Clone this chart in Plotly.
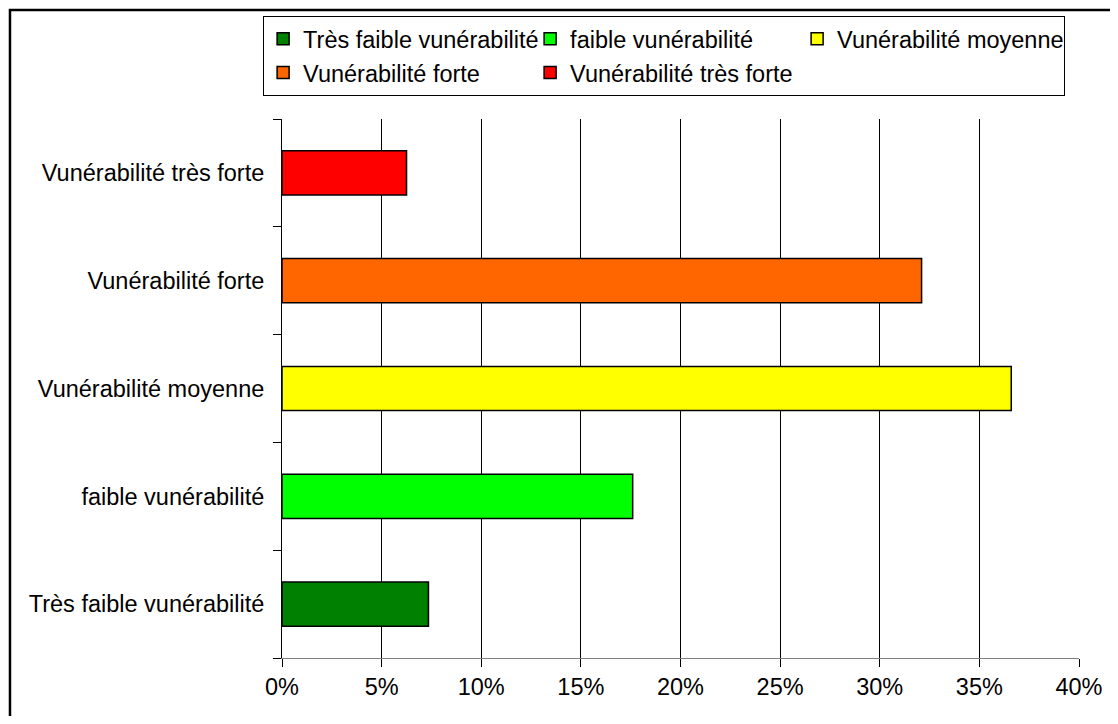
import plotly.graph_objects as go

categories = ["Très faible vunérabilité", "faible vunérabilité", "Vunérabilité moyenne",
              "Vunérabilité forte", "Vunérabilité très forte"]
values = [7.35, 17.6, 36.6, 32.1, 6.25]
colors = ["#008000", "#00FF00", "#FFFF00", "#FF6600", "#FF0000"]
groups = ["g1", "g2", "g3", "g1", "g2"]
x_ticks = [0, 5, 10, 15, 20, 25, 30, 35, 40]
x_tick_labels = [f"{t}%" for t in x_ticks]

FONT = "Liberation Sans, Arial, sans-serif"

fig = go.Figure()
for cat, val, col, grp in zip(categories, values, colors, groups):
    fig.add_trace(go.Bar(
        x=[val], y=[cat], orientation="h", name=cat,
        marker=dict(color=col, line=dict(color="black", width=1.5)),
        width=0.41, legendgroup=grp,
    ))

fig.update_layout(
    width=1110, height=708,
    margin=dict(l=274, r=39, t=111, b=58, autoexpand=False),
    paper_bgcolor="white", plot_bgcolor="white",
    barmode="overlay",
    font=dict(family=FONT, size=23.5, color="black"),
    legend=dict(
        orientation="h", traceorder="grouped",
        x=-0.0237, xanchor="left", y=1.191, yanchor="top",
        bordercolor="black", borderwidth=1, bgcolor="white",
        font=dict(family=FONT, size=23.5, color="black"),
        entrywidth=222, tracegroupgap=0,
    ),
    xaxis=dict(
        range=[0, 40], tickvals=x_ticks, ticktext=x_tick_labels,
        showgrid=True, gridcolor="black", gridwidth=1,
        showline=True, linecolor="#808080", linewidth=1,
        ticks="outside", ticklen=8, tickcolor="black",
        zeroline=False, fixedrange=True,
    ),
    yaxis=dict(
        type="category", categoryorder="array", categoryarray=categories,
        showline=True, linecolor="black", linewidth=1,
        ticks="outside", ticklen=8, tickcolor="black", tickson="boundaries",
        ticklabelstandoff=12, showgrid=False, zeroline=False,
    ),
    shapes=[dict(type="rect", xref="paper", yref="paper",
                 x0=-0.3413, x1=1.08, y0=-0.16, y1=1.2022,
                 line=dict(color="black", width=2.5), layer="above")],
)

fig.write_html("out.html")
